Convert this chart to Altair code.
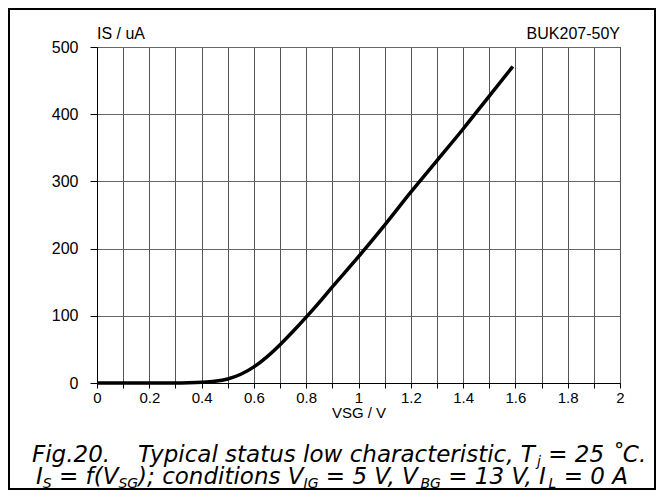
import altair as alt
import pandas as pd

# Curve data
vsg = [0.0, 0.1, 0.2, 0.3, 0.35, 0.4, 0.45, 0.5, 0.55, 0.6, 0.65, 0.7, 0.75,
       0.8, 0.85, 0.9, 1.0, 1.1, 1.2, 1.3, 1.4, 1.5, 1.59]
i_s = [0.0, 0.0, 0.0, 0.0, 0.3, 1.0, 2.5, 6.0, 13.0, 24.0, 39.0, 57.0, 77.0,
       98.0, 120.0, 143.0, 188.0, 235.0, 284.0, 331.0, 378.0, 427.0, 471.0]

x_ticks = [0.0, 0.1, 0.2, 0.3, 0.4, 0.5, 0.6, 0.7, 0.8, 0.9, 1.0,
           1.1, 1.2, 1.3, 1.4, 1.5, 1.6, 1.7, 1.8, 1.9, 2.0]
y_ticks = [0, 100, 200, 300, 400, 500]

# caption pieces: (text, is_subscript)
caption1 = [("Fig.20.", False), ("Typical status low characteristic, T", False),
            ("j", True), (" = 25 \u02daC.", False)]
caption2 = [("I", False), ("S", True), (" = f(V", False), ("SG", True),
            ("); conditions V", False), ("IG", True), (" = 5 V, V", False),
            ("BG", True), (" = 13 V, I", False), ("L", True), (" = 0 A", False)]

df = pd.DataFrame({"VSG": vsg, "IS": i_s})
one = pd.DataFrame({"a": [0]})

FONT = "Liberation Sans"
CFONT = "DejaVu Sans"

x_enc = alt.X("VSG:Q", scale=alt.Scale(domain=[0, 2], nice=False),
              axis=alt.Axis(values=x_ticks, format="~g",
                            labelExpr="round(datum.value*10) % 2 == 0 ? datum.label : ''",
                            tickSize=5, tickColor="black", domainColor="black",
                            gridColor="#555555", gridOpacity=1,
                            labelFontSize=15, labelFont=FONT, labelColor="black",
                            labelPadding=2, labelFlush=False, labelOverlap=False,
                            title="VSG / V", titleFont=FONT, titleFontSize=15,
                            titleFontWeight="normal", titleColor="black", titlePadding=0))
y_enc = alt.Y("IS:Q", scale=alt.Scale(domain=[0, 500], nice=False),
              axis=alt.Axis(values=y_ticks, tickSize=7, tickColor="black",
                            domainColor="black", gridColor="#666666", gridOpacity=1,
                            labelFontSize=16, labelFont=FONT, labelColor="black",
                            labelPadding=12, title=None))

curve = alt.Chart(df).mark_line(color="black", strokeWidth=3.5, interpolate="monotone").encode(
    x=x_enc, y=y_enc)

border = alt.Chart(one).mark_rect(fill=None, stroke="black", strokeWidth=2).encode(
    x=alt.value(-88), x2=alt.value(558), y=alt.value(-38), y2=alt.value(442))


def txt(s, x, y, size, italic=False, align="left", font=FONT):
    return alt.Chart(one).mark_text(
        text=s, align=align, baseline="alphabetic", font=font, fontSize=size,
        fontStyle="italic" if italic else "normal", color="black"
    ).encode(x=alt.value(x), y=alt.value(y))


# DejaVu Sans advance widths (per 1000 em) for laying out the caption pieces
W = {" ": 318, "(": 390, ")": 390, ",": 318, ".": 318, ";": 337, "=": 838,
     "A": 684, "B": 686, "C": 698, "F": 575, "G": 775, "I": 295, "L": 557,
     "S": 635, "T": 611, "V": 684, "a": 613, "c": 550, "d": 635, "e": 615,
     "f": 352, "g": 635, "h": 634, "i": 278, "j": 278, "l": 278, "n": 634,
     "o": 612, "p": 635, "r": 411, "s": 521, "t": 392, "u": 634, "w": 818,
     "y": 592, "\u02da": 500}


def width(s, size):
    return sum(W.get(ch, 636) for ch in s) * size / 1000.0


OX, OY = 97, 47
MAIN, SUB, SUBD = 23, 14, 4


def caption_line(pieces, x0, base, gaps=None):
    out = []
    x = x0
    for k, (s, sub) in enumerate(pieces):
        if gaps and k in gaps:
            x = gaps[k]
        size = SUB if sub else MAIN
        lead = len(s) - len(s.lstrip(" "))
        xs = x + width(" " * lead, size)
        out.append(txt(s.lstrip(" "), xs - OX, base - OY + (SUBD if sub else 0),
                       size, True, font=CFONT))
        x = x + width(s, size)
    return out


labels = [
    txt("IS / uA", 0, 39 - OY, 16),
    txt("BUK207-50Y", 523, 39 - OY, 16, align="right"),
]
labels += caption_line(caption1, 32, 462, gaps={1: 138})
labels += caption_line(caption2, 36, 484)

chart = alt.layer(curve, border, *labels).properties(
    width=523, height=336,
    padding={"left": 89, "top": 39, "right": 36, "bottom": 107},
    autosize=alt.AutoSizeParams(type="none"),
    background="white",
).configure_view(stroke="black", strokeWidth=1)

chart.save("out.html", embed_options={"renderer": "svg", "actions": False})
